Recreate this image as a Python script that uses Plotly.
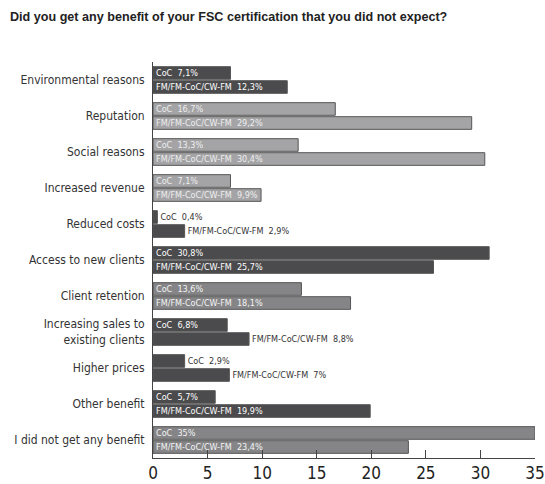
import plotly.graph_objects as go

categories = ["Environmental reasons", "Reputation", "Social reasons", "Increased revenue",
              "Reduced costs", "Access to new clients", "Client retention",
              "Increasing sales to<br>existing clients", "Higher prices", "Other benefit",
              "I did not get any benefit"]
coc_values = [7.1, 16.7, 13.3, 7.1, 0.4, 30.8, 13.6, 6.8, 2.9, 5.7, 35]
fm_values = [12.3, 29.2, 30.4, 9.9, 2.9, 25.7, 18.1, 8.8, 7, 19.9, 23.4]
coc_labels = ["7,1%", "16,7%", "13,3%", "7,1%", "0,4%", "30,8%", "13,6%", "6,8%", "2,9%", "5,7%", "35%"]
fm_labels = ["12,3%", "29,2%", "30,4%", "9,9%", "2,9%", "25,7%", "18,1%", "8,8%", "7%", "19,9%", "23,4%"]
coc_outside = [False, False, False, False, True, False, False, False, True, False, False]
fm_outside = [False, False, False, False, True, False, False, True, True, False, False]
shade = ["dark", "light", "light", "light", "dark", "dark", "mid", "dark", "dark", "dark", "mid"]

palette = {"dark": "#4b4b4d", "light": "#a4a4a6", "mid": "#858587"}
text_palette = {"dark": "#ffffff", "light": "#eeeeee", "mid": "#f4f4f4"}
NARROW = "DejaVu Sans Condensed, Liberation Sans Narrow, sans-serif"

colors = [palette[s] for s in shade]


def make_trace(name, values, labels, outside):
    texts = [f"{name}\u00a0\u00a0{l}" for l in labels]
    positions = ["outside" if o else "inside" for o in outside]
    tcolors = ["#333333" if o else text_palette[s] for o, s in zip(outside, shade)]
    return go.Bar(
        y=categories, x=values, orientation="h", name=name,
        text=texts, textposition=positions, insidetextanchor="start",
        textfont=dict(family=NARROW, size=9, color=tcolors),
        constraintext="none", cliponaxis=False,
        marker=dict(color=colors, line=dict(color="#555555", width=1)),
        hoverinfo="x+y",
    )


fig = go.Figure()
fig.add_trace(make_trace("CoC", coc_values, coc_labels, coc_outside))
fig.add_trace(make_trace("FM/FM-CoC/CW-FM", fm_values, fm_labels, fm_outside))

fig.update_layout(
    width=545, height=484,
    margin=dict(l=153, r=10, t=62, b=26, autoexpand=False),
    paper_bgcolor="white", plot_bgcolor="white",
    barmode="group", bargap=0.22, bargroupgap=0.1,
    showlegend=False,
    title=dict(text="<b>Did you get any benefit of your FSC certification that you did not expect?</b>",
               x=10 / 545, xanchor="left", xref="container", y=1 - 17 / 484, yanchor="middle",
               yref="container",
               font=dict(family="Liberation Sans, Arial, sans-serif", size=12.6, color="#222222")),
)

fig.update_xaxes(
    range=[0, 35], tickvals=[0, 5, 10, 15, 20, 25, 30, 35],
    showgrid=False, zeroline=False,
    showline=True, linecolor="#444444", linewidth=1,
    ticks="inside", ticklen=8, tickcolor="#444444", tickwidth=1,
    tickfont=dict(family=NARROW, size=17, color="#222222"),
    ticklabeloverflow="allow", ticklabelstandoff=0,
    automargin=False, fixedrange=True,
)
fig.update_yaxes(
    autorange="reversed", showgrid=False, zeroline=False,
    showline=True, linecolor="#444444", linewidth=1,
    ticks="", ticklabelstandoff=5,
    tickfont=dict(family=NARROW, size=12, color="#333333"),
    automargin=False, fixedrange=True,
)

fig.write_html("out.html")
